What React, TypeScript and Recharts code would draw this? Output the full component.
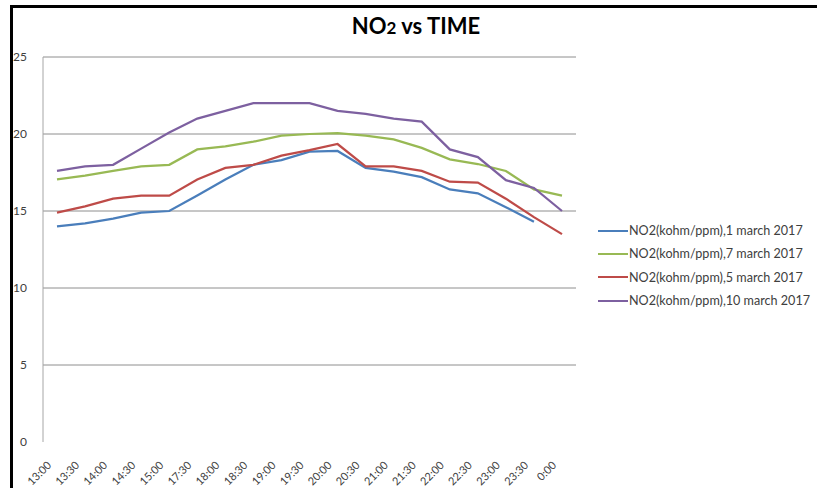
import React from "react";
import { LineChart, Line, XAxis, YAxis, ReferenceLine } from "recharts";

const times = ["13:00","13:30","14:00","14:30","15:00","17:30","18:00","18:30","19:00","19:30","20:00","20:30","21:00","21:30","22:00","22:30","23:00","23:30","0:00"];
const march1 = [14.0,14.2,14.5,14.9,15.0,16.0,17.05,18.0,18.3,18.85,18.9,17.8,17.55,17.2,16.4,16.15,15.25,14.3,null];
const march7 = [17.05,17.3,17.6,17.9,18.0,19.0,19.2,19.5,19.9,20.0,20.05,19.9,19.65,19.1,18.35,18.05,17.6,16.4,16.0];
const march5 = [14.9,15.3,15.8,16.0,16.0,17.05,17.8,18.0,18.6,18.95,19.35,17.9,17.9,17.6,16.9,16.85,15.8,14.6,13.5];
const march10 = [17.6,17.9,18.0,19.05,20.1,21.0,21.5,22.0,22.0,22.0,21.5,21.3,21.0,20.8,19.0,18.5,17.0,16.5,15.0];
const yTicks = [0,5,10,15,20,25];
const gridValues = [5,10,15,20,25];

const seriesKeys = ["s1", "s7", "s5", "s10"];
const seriesNames = [
  "NO2(kohm/ppm),1 march 2017",
  "NO2(kohm/ppm),7 march 2017",
  "NO2(kohm/ppm),5 march 2017",
  "NO2(kohm/ppm),10 march 2017",
];
const colors = ["#4a7ebb", "#98b954", "#be4b48", "#7d60a0"];

const data = times.map((t, i) => ({
  time: t,
  s1: march1[i],
  s7: march7[i],
  s5: march5[i],
  s10: march10[i],
}));

const FONT = "Lato, 'Open Sans', sans-serif";

const XTick = (props: any) => {
  const { x, y, payload } = props;
  return (
    <g transform={`translate(${x - 5},${y + 24}) rotate(-45)`}>
      <text textAnchor="end" fontSize={11} fill="#404040" fontFamily={FONT}>
        {payload.value}
      </text>
    </g>
  );
};

const LegendBox = () => (
  <div
    style={{
      position: "absolute",
      left: 598,
      top: 219,
      fontFamily: FONT,
      fontSize: 12.6,
      color: "#404040",
    }}
  >
    {seriesNames.map((name, i) => (
      <div key={i} style={{ display: "flex", alignItems: "center", height: 23.3, whiteSpace: "nowrap" }}>
        <svg width={31} height={6} style={{ marginRight: 0 }}>
          <line x1={0} y1={3} x2={30} y2={3} stroke={colors[i]} strokeWidth={2} />
        </svg>
        <span>{name}</span>
      </div>
    ))}
  </div>
);

export default function App() {
  return (
    <div style={{ position: "absolute", left: 0, top: 0, width: 817, height: 488, background: "#fff" }}>
      <div
        style={{
          position: "absolute",
          left: 10,
          top: 5,
          width: 807,
          height: 483,
          borderTop: "3px solid #000",
          borderLeft: "3px solid #000",
          boxSizing: "border-box",
        }}
      />
      <div
        style={{
          position: "absolute",
          left: 0,
          width: 832,
          top: 12,
          textAlign: "center",
          fontFamily: FONT,
          fontWeight: 700,
          fontSize: 22,
          color: "#000",
        }}
      >
        NO<span style={{ fontSize: 17 }}>2</span> vs TIME
      </div>
      <div style={{ position: "absolute", left: 0, top: 0 }}>
        <LineChart
          width={817}
          height={488}
          data={data}
          margin={{ top: 57, right: 241, left: 0, bottom: 0 }}
        >
          {gridValues.map((v) => (
            <ReferenceLine key={v} y={v} stroke="#8e8e8e" strokeWidth={1} />
          ))}
          <XAxis
            dataKey="time"
            height={46}
            axisLine={false}
            tickLine={false}
            tickSize={0}
            tickMargin={0}
            interval={0}
            padding={{ left: 14, right: 14 }}
            tick={<XTick />}
          />
          <YAxis
            width={43}
            domain={[0, 25]}
            ticks={yTicks}
            axisLine={{ stroke: "#a6a6a6", strokeWidth: 1 }}
            tickLine={false}
            tickSize={0}
            tickMargin={16}
            tick={{ fontSize: 12, fill: "#404040", fontFamily: FONT }}
          />
          {seriesKeys.map((k, i) => (
            <Line
              key={k}
              type="linear"
              dataKey={k}
              name={seriesNames[i]}
              stroke={colors[i]}
              strokeWidth={2.25}
              dot={false}
              isAnimationActive={false}
            />
          ))}
        </LineChart>
      </div>
      <LegendBox />
    </div>
  );
}
